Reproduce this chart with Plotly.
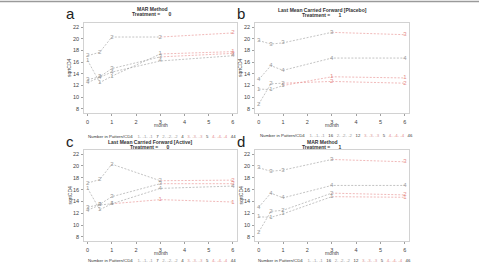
import plotly.graph_objects as go

W, H = 479, 262

months = [0, 0.5, 1, 3, 6]
pattern_labels = ["1", "2", "3", "4"]
y_ticks = [8, 10, 12, 14, 16, 18, 20, 22]
x_ticks = [0, 1, 2, 3, 4, 5, 6]

# Panel a: MAR Method, Treatment = 0
a_p1 = [16.3, 12.5, 13.6, 17.4, 17.8]
a_p2 = [17.1, 17.7, 20.3, 20.3, 21.0]
a_p3 = [13.0, 13.5, 14.9, 16.9, 17.5]
a_p4 = [12.5, 13.4, 14.3, 16.2, 17.1]
# Panel b: LMCF Placebo, Treatment = 1
b_p1 = [11.4, 11.3, 12.0, 13.5, 13.3]
b_p2 = [8.8, 12.3, 12.4, 12.7, 12.4]
b_p3 = [19.7, 19.1, 19.3, 21.1, 20.7]
b_p4 = [13.0, 15.4, 14.6, 16.7, 16.7]
# Panel c: LMCF Active, Treatment = 0
c_p1 = [16.2, 12.6, 13.6, 14.3, 13.9]
c_p2 = [17.1, 17.7, 20.3, 17.5, 17.6]
c_p3 = [13.0, 13.5, 14.8, 17.0, 17.0]
c_p4 = [12.5, 13.4, 13.6, 16.2, 16.6]
# Panel d: MAR Method, Treatment = 1
d_p1 = [11.4, 11.3, 11.9, 14.8, 14.7]
d_p2 = [8.8, 12.3, 12.5, 15.4, 15.1]
d_p3 = [19.7, 19.1, 19.3, 21.1, 20.7]
d_p4 = [13.0, 15.4, 14.6, 16.7, 16.7]

# index after which segments are imputed (red); None = fully observed
a_red = [3, 3, 3, None]
b_red = [2, 2, 3, None]
c_red = [2, 3, 3, None]
d_red = [3, 3, 3, None]

counts_t0 = ["7", "4", "5", "44"]
counts_t1 = ["16", "12", "5", "46"]

GRAY = "#9a9a9a"
RED = "#e58a8a"
FONT = "Liberation Sans, Arial, sans-serif"

panels = [
    ("a", [a_p1, a_p2, a_p3, a_p4], a_red, (84, 237, 23, 113)),
    ("b", [b_p1, b_p2, b_p3, b_p4], b_red, (255, 409, 23, 113)),
    ("c", [c_p1, c_p2, c_p3, c_p4], c_red, (84, 237, 150, 241)),
    ("d", [d_p1, d_p2, d_p3, d_p4], d_red, (255, 409, 150, 241)),
]

fig = go.Figure()
layout = {}
annotations = []

for k, (letter, series, reds, box) in enumerate(panels):
    ax = "" if k == 0 else str(k + 1)
    xref, yref = "x" + ax, "y" + ax
    for p, vals in enumerate(series):
        rs = reds[p]
        end_gray = len(months) if rs is None else rs + 1
        fig.add_trace(go.Scatter(x=months[:end_gray], y=vals[:end_gray], mode="lines",
                                 line=dict(color=GRAY, width=0.6, dash="2px,1.5px"),
                                 xaxis=xref, yaxis=yref, showlegend=False, hoverinfo="skip"))
        if rs is not None:
            fig.add_trace(go.Scatter(x=months[rs:], y=vals[rs:], mode="lines",
                                     line=dict(color=RED, width=0.6, dash="2px,1.5px"),
                                     xaxis=xref, yaxis=yref, showlegend=False, hoverinfo="skip"))
        cols = [RED if (rs is not None and i > rs) else GRAY for i in range(len(months))]
        fig.add_trace(go.Scatter(x=months, y=vals, mode="text",
                                 text=[pattern_labels[p]] * len(months),
                                 textfont=dict(color=cols, size=6, family=FONT),
                                 textposition="middle center",
                                 xaxis=xref, yaxis=yref, showlegend=False, hoverinfo="skip"))
    x0, x1, y0, y1 = box
    common = dict(showline=True, mirror=True, linecolor="#d2d2d2", linewidth=0.8,
                  ticks="outside", ticklen=2, tickcolor="#a0a0a0", tickwidth=0.6,
                  tickfont=dict(size=5.5, color="#444", family=FONT),
                  showgrid=False, zeroline=False, ticklabelstandoff=1)
    layout["xaxis" + ax] = dict(domain=[x0 / W, x1 / W], range=[-0.15, 6.17],
                                tickvals=x_ticks, anchor=yref, **common)
    layout["yaxis" + ax] = dict(domain=[1 - y1 / H, 1 - y0 / H], range=[7.3, 22.7],
                                tickvals=y_ticks, anchor=xref, **common)
    annotations.append(dict(text=letter, x=(x0 - 14) / W, y=1 - (y0 - 9) / H,
                            xref="paper", yref="paper", showarrow=False,
                            font=dict(size=15, color="#222", family=FONT),
                            xanchor="center", yanchor="middle"))
    annotations.append(dict(text="month", x=(x0 + x1) / 2 / W, y=1 - (y1 + 12) / H,
                            xref="paper", yref="paper", showarrow=False,
                            font=dict(size=5, color="#444", family=FONT),
                            xanchor="center", yanchor="middle"))
    annotations.append(dict(text="sqrtCD4", x=(x0 - 15) / W, y=1 - (y0 + y1) / 2 / H,
                            xref="paper", yref="paper", showarrow=False, textangle=-90,
                            font=dict(size=5, color="#444", family=FONT),
                            xanchor="center", yanchor="middle"))

titles = [
    ("MAR Method", "Treatment =      0", 152, 9),
    ("Last Mean Carried Forward [Placebo]", "Treatment =      1", 322, 10),
    ("Last Mean Carried Forward [Active]", "Treatment =      0", 150, 142),
    ("MAR Method", "Treatment =      1", 322, 142),
]
for t1, t2, cx, cy in titles:
    annotations.append(dict(text="<b>" + t1 + "</b>", x=cx / W, y=1 - cy / H, xref="paper", yref="paper",
                            showarrow=False, font=dict(size=5, color="#333", family=FONT),
                            xanchor="center", yanchor="middle"))
    annotations.append(dict(text="<b>" + t2 + "</b>", x=cx / W, y=1 - (cy + 5) / H, xref="paper", yref="paper",
                            showarrow=False, font=dict(size=5, color="#333", family=FONT),
                            xanchor="center", yanchor="middle"))

leg_cols = [GRAY, GRAY, "#d99a9a", RED]


def legend_text(counts):
    parts = ["Number in Pattern/CD4    "]
    for p, c in zip(pattern_labels, counts):
        parts.append("<span style='color:%s'>%s- -%s- -%s</span>   %s   " % (leg_cols[pattern_labels.index(p)], p, p, p, c))
    return "".join(parts)


for lx, ly, counts in [(86, 136, counts_t0), (258, 135, counts_t1), (86, 260, counts_t0), (256, 260, counts_t1)]:
    annotations.append(dict(text=legend_text(counts), x=lx / W, y=1 - ly / H, xref="paper", yref="paper",
                            showarrow=False, font=dict(size=4.3, color="#333", family=FONT),
                            xanchor="left", yanchor="middle"))

fig.update_layout(**layout)
fig.update_layout(
    width=W, height=H, margin=dict(l=0, r=0, t=0, b=0),
    paper_bgcolor="white", plot_bgcolor="white",
    annotations=annotations,
    shapes=[dict(type="line", xref="paper", yref="paper", x0=0, x1=1, y0=1 - 1.5 / H, y1=1 - 1.5 / H,
                 line=dict(color="#9a9a9a", width=1.5))],
)

fig.write_html("out.html")
